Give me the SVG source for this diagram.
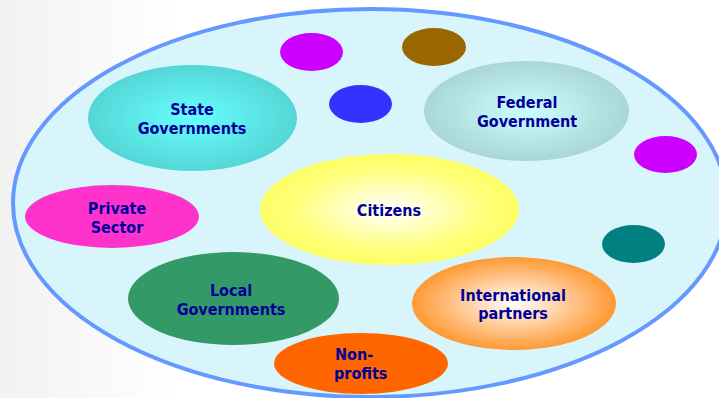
<svg xmlns="http://www.w3.org/2000/svg" width="719" height="398" viewBox="0 0 719 398">
<defs>
<linearGradient id="bg" x1="0" y1="0" x2="1" y2="0">
<stop offset="0" stop-color="#F2F2F2"/>
<stop offset="0.25" stop-color="#FFFFFF"/>
</linearGradient>
<radialGradient id="gState"><stop offset="0" stop-color="#66FFFF"/><stop offset="1" stop-color="#55D6D6"/></radialGradient>
<radialGradient id="gFed"><stop offset="0" stop-color="#CCFFFF"/><stop offset="1" stop-color="#AAD6D6"/></radialGradient>
<radialGradient id="gCit"><stop offset="0" stop-color="#FFFFFF"/><stop offset="0.75" stop-color="#FFFF77"/><stop offset="1" stop-color="#FFFF66"/></radialGradient>
<radialGradient id="gInt"><stop offset="0" stop-color="#FFFFFF"/><stop offset="1" stop-color="#FF9933"/></radialGradient>
</defs>
<style>
text{font-family:"DejaVu Sans Condensed","DejaVu Sans",sans-serif;font-weight:bold;font-size:16px;fill:#000099;text-anchor:middle}
.lft{text-anchor:start}
</style>
<rect width="719" height="398" fill="url(#bg)"/>
<g id="universe"><ellipse cx="370" cy="203" rx="357" ry="194" fill="#D9F5FC" stroke="#6699FF" stroke-width="4"/></g>
<g id="dot-magenta-top"><ellipse cx="311.5" cy="52" rx="31.5" ry="19" fill="#CC00FF"/></g>
<g id="dot-brown"><ellipse cx="434" cy="47" rx="32" ry="19" fill="#996600"/></g>
<g id="dot-blue"><ellipse cx="360.5" cy="104" rx="31.5" ry="19" fill="#3333FF"/></g>
<g id="dot-magenta-right"><ellipse cx="665.5" cy="154.5" rx="31.5" ry="18.5" fill="#CC00FF"/></g>
<g id="dot-teal"><ellipse cx="633.5" cy="244" rx="31.5" ry="19" fill="#008080"/></g>
<g id="state"><ellipse cx="192.5" cy="118" rx="104.5" ry="53" fill="url(#gState)"/><text x="192" y="115">State</text><text x="192" y="134">Governments</text></g>
<g id="federal"><ellipse cx="526.5" cy="111" rx="102.5" ry="50" fill="url(#gFed)"/><text x="527" y="108">Federal</text><text x="527" y="127">Government</text></g>
<g id="citizens"><ellipse cx="389.5" cy="209.5" rx="129.5" ry="55.5" fill="url(#gCit)"/><text x="389" y="216">Citizens</text></g>
<g id="private"><ellipse cx="112" cy="216.5" rx="87" ry="31.5" fill="#FF33CC"/><text x="117" y="214">Private</text><text x="117" y="233">Sector</text></g>
<g id="local"><ellipse cx="233.5" cy="298.5" rx="105.5" ry="46.5" fill="#339966"/><text x="231" y="296">Local</text><text x="231" y="315">Governments</text></g>
<g id="international"><ellipse cx="514" cy="303.5" rx="102" ry="46.5" fill="url(#gInt)"/><text x="513" y="301">International</text><text x="513" y="319">partners</text></g>
<g id="nonprofits"><ellipse cx="361" cy="363.5" rx="87" ry="30.5" fill="#FF6600"/><text class="lft" x="335" y="360">Non-</text><text class="lft" x="334" y="379">profits</text></g>
<g id="connectors"/>
</svg>
